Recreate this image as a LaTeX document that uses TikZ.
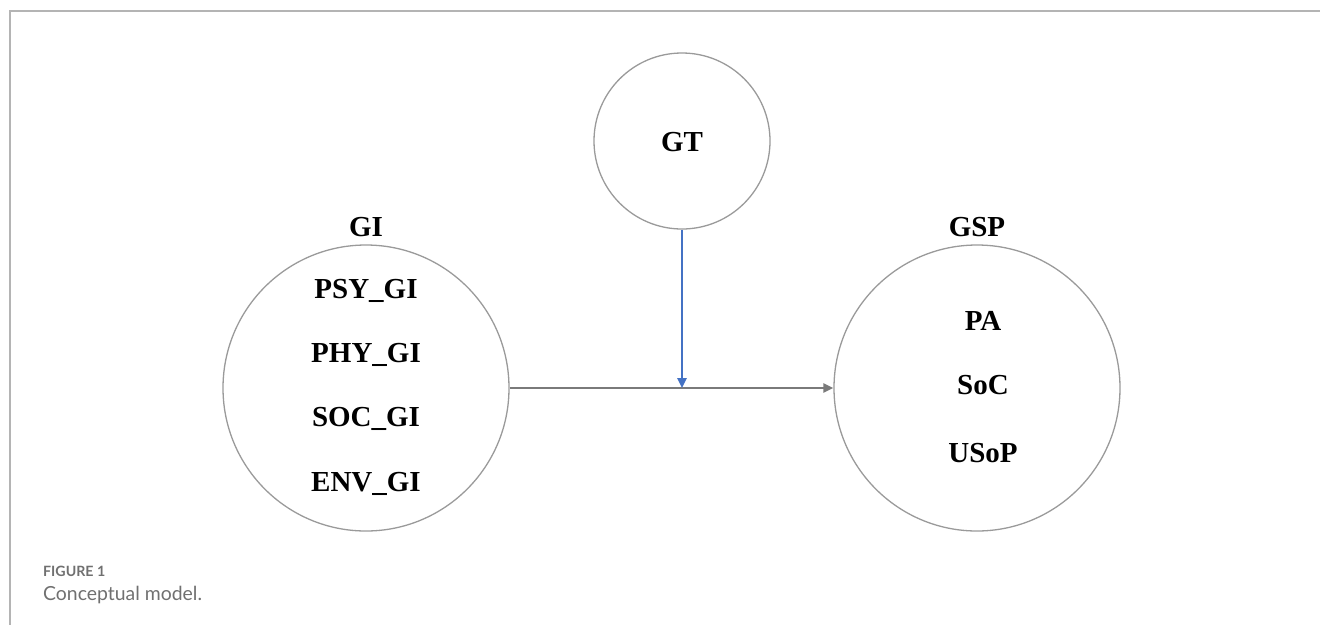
\documentclass[tikz,border=0pt]{standalone}
\usepackage{fontspec}
\setmainfont{Liberation Serif}
\newfontfamily\captionfont{Lato}
\usetikzlibrary{arrows.meta}
\definecolor{ringgray}{HTML}{9A9A9A}
\definecolor{linkgray}{HTML}{7A7A7A}
\definecolor{modblue}{HTML}{4472C4}
\definecolor{framegray}{HTML}{B4B4B4}
\definecolor{capgray}{HTML}{707070}
\tikzset{
  construct/.style={circle, draw=ringgray, line width=1.3pt, inner sep=0pt},
  big/.style={construct, minimum size=286pt},
  small/.style={construct, minimum size=176pt},
  lbl/.style={anchor=base, inner sep=0pt, font=\fontsize{29}{34}\selectfont\bfseries},
  path/.style={draw=linkgray, line width=2.2pt, -{Triangle[length=10pt,width=9pt]}},
  moderate/.style={draw=modblue, line width=2.4pt, -{Triangle[length=10pt,width=9pt]}},
}
\begin{document}
\begin{tikzpicture}[x=1pt,y=-1pt]
\useasboundingbox (0,0) rectangle (1320,625);
% panel frame
\draw[framegray, line width=2pt] (1320,11) -- (10,11) -- (10,625);

% constructs
\node[big]   (gi)  at (366,388) {};
\node[big]   (gsp) at (977,388) {};
\node[small] (gt)  at (682,141) {};

% titles
\node[lbl] (gilbl)  at (366,236.5) {GI};
\node[lbl] (gsplbl) at (977,236.5) {GSP};
\node[lbl] (gtlbl)  at (682,151.5) {GT};

% GI dimensions
\node[lbl] (psy) at (366,298)   {PSY\_GI};
\node[lbl] (phy) at (366,362.5) {PHY\_GI};
\node[lbl] (soc) at (366,426.5) {SOC\_GI};
\node[lbl] (env) at (366,491.5) {ENV\_GI};

% GSP dimensions
\node[lbl] (pa)   at (983,330)   {PA};
\node[lbl] (socp) at (983,394.5) {SoC};
\node[lbl] (usop) at (983,462.5) {USoP};

% paths
\coordinate (meet) at (682,388);
\draw[path] (gi.east) -- (gsp.west);
\draw[moderate] (gt.south) -- (meet);

% caption
\node[anchor=base west, inner sep=0pt, text=capgray, font=\captionfont\fontsize{14.2}{17}\selectfont\bfseries] (fig) at (43,576) {FIGURE 1};
\node[anchor=base west, inner sep=0pt, text=capgray, font=\captionfont\fontsize{19.4}{23}\selectfont] (cap) at (43,600) {Conceptual model.};
\end{tikzpicture}
\end{document}
